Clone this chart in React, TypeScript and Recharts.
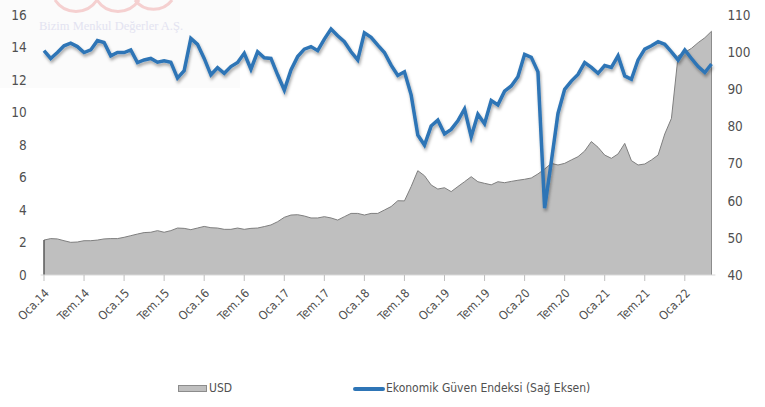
import React from 'react';
import { ComposedChart, Area, Line, XAxis, YAxis, Legend, ReferenceLine } from 'recharts';

const months = [
  'Oca.14', 'Şub.14', 'Mar.14', 'Nis.14', 'May.14', 'Haz.14', 'Tem.14', 'Ağu.14', 'Eyl.14', 'Eki.14', 'Kas.14', 'Ara.14',
  'Oca.15', 'Şub.15', 'Mar.15', 'Nis.15', 'May.15', 'Haz.15', 'Tem.15', 'Ağu.15', 'Eyl.15', 'Eki.15', 'Kas.15', 'Ara.15',
  'Oca.16', 'Şub.16', 'Mar.16', 'Nis.16', 'May.16', 'Haz.16', 'Tem.16', 'Ağu.16', 'Eyl.16', 'Eki.16', 'Kas.16', 'Ara.16',
  'Oca.17', 'Şub.17', 'Mar.17', 'Nis.17', 'May.17', 'Haz.17', 'Tem.17', 'Ağu.17', 'Eyl.17', 'Eki.17', 'Kas.17', 'Ara.17',
  'Oca.18', 'Şub.18', 'Mar.18', 'Nis.18', 'May.18', 'Haz.18', 'Tem.18', 'Ağu.18', 'Eyl.18', 'Eki.18', 'Kas.18', 'Ara.18',
  'Oca.19', 'Şub.19', 'Mar.19', 'Nis.19', 'May.19', 'Haz.19', 'Tem.19', 'Ağu.19', 'Eyl.19', 'Eki.19', 'Kas.19', 'Ara.19',
  'Oca.20', 'Şub.20', 'Mar.20', 'Nis.20', 'May.20', 'Haz.20', 'Tem.20', 'Ağu.20', 'Eyl.20', 'Eki.20', 'Kas.20', 'Ara.20',
  'Oca.21', 'Şub.21', 'Mar.21', 'Nis.21', 'May.21', 'Haz.21', 'Tem.21', 'Ağu.21', 'Eyl.21', 'Eki.21', 'Kas.21', 'Ara.21',
  'Oca.22', 'Şub.22', 'Mar.22', 'Nis.22', 'May.22',
];

const usd = [
  2.15, 2.24, 2.22, 2.11, 2.01, 2.03, 2.11, 2.11, 2.15, 2.22, 2.24, 2.24,
  2.32, 2.42, 2.52, 2.61, 2.63, 2.73, 2.63, 2.73, 2.89, 2.87, 2.79, 2.89,
  2.99, 2.91, 2.89, 2.81, 2.81, 2.89, 2.81, 2.87, 2.89, 2.98, 3.08, 3.28,
  3.55, 3.69, 3.71, 3.63, 3.51, 3.51, 3.59, 3.51, 3.38, 3.59, 3.79, 3.79,
  3.69, 3.79, 3.79, 4.0, 4.21, 4.57, 4.56, 5.44, 6.42, 6.11, 5.54, 5.29,
  5.37, 5.13, 5.44, 5.74, 6.05, 5.74, 5.64, 5.55, 5.74, 5.68, 5.76, 5.83,
  5.89, 5.97, 6.22, 6.52, 6.87, 6.77, 6.87, 7.08, 7.28, 7.63, 8.21, 7.86,
  7.38, 7.18, 7.45, 8.1, 7.04, 6.77, 6.83, 7.08, 7.38, 8.68, 9.64, 13.5,
  13.7, 13.95, 14.3, 14.6, 15.0,
];

const eci = [
  100.4, 98.3, 99.9, 101.7, 102.4, 101.5, 99.9, 100.6, 103.1, 102.6, 99.0, 99.9,
  99.9, 100.6, 97.2, 97.9, 98.3, 97.3, 97.7, 97.3, 93.0, 95.0, 103.7, 102.1,
  98.3, 93.9, 95.8, 94.3, 96.1, 97.2, 99.7, 95.4, 100.1, 98.5, 98.3, 93.9,
  89.8, 95.2, 98.8, 100.8, 101.5, 100.4, 103.5, 106.2, 104.4, 102.8, 100.1, 97.9,
  105.2, 104.0, 101.9, 99.9, 96.5, 93.7, 94.7, 88.5, 77.7, 75.0, 80.1, 81.7,
  78.0, 79.2, 81.5, 84.7, 77.2, 83.3, 80.7, 87.0, 85.8, 89.5, 90.9, 93.4,
  99.4, 98.6, 94.7, 58.0, 70.5, 83.5, 90.0, 92.2, 94.0, 97.2, 95.9, 94.3,
  96.4, 95.9, 99.0, 93.6, 92.7, 97.9, 100.8, 101.7, 102.8, 102.1, 100.1, 97.9,
  100.6, 98.3, 96.1, 94.5, 96.8,
];

const xTicks = [
  'Oca.14', 'Tem.14', 'Oca.15', 'Tem.15', 'Oca.16', 'Tem.16', 'Oca.17', 'Tem.17', 'Oca.18',
  'Tem.18', 'Oca.19', 'Tem.19', 'Oca.20', 'Tem.20', 'Oca.21', 'Tem.21', 'Oca.22',
];
const leftTicks = [0, 2, 4, 6, 8, 10, 12, 14, 16];
const rightTicks = [40, 50, 60, 70, 80, 90, 100, 110];

const seriesNames = { usd: 'USD', eci: 'Ekonomik Güven Endeksi (Sağ Eksen)' };
const watermark = 'Bizim Menkul Değerler A.Ş.';

const data = months.map((m, i) => ({ month: m, usd: usd[i], eci: eci[i] }));

const FONT = "'Liberation Sans Narrow', 'DejaVu Sans Condensed', 'Liberation Sans', sans-serif";
const TEXT = '#505050';
const BLUE = '#2E75B6';

const XTick = (props: any) => {
  const { x, y, payload } = props;
  return (
    <g transform={`translate(${x + 3},${y + 8})`}>
      <text x={0} y={0} dy="0.35em" textAnchor="end" transform="rotate(-45)" fill={TEXT} fontSize={12} fontFamily={FONT}>
        {payload.value}
      </text>
    </g>
  );
};

const renderLegend = () => (
  <div style={{ position: 'relative', width: 765, height: 20, fontFamily: FONT, fontSize: 12, color: TEXT }}>
    <div style={{ position: 'absolute', left: 178, top: 7, width: 29, height: 7, background: '#BFBFBF', border: '1px solid #8C8C8C', boxSizing: 'border-box' }} />
    <span style={{ position: 'absolute', left: 209, top: 2, lineHeight: '16px', whiteSpace: 'nowrap' }}>{seriesNames.usd}</span>
    <div style={{ position: 'absolute', left: 353, top: 9, width: 32, height: 4, background: BLUE, borderRadius: 2 }} />
    <span style={{ position: 'absolute', left: 386, top: 2, lineHeight: '16px', whiteSpace: 'nowrap' }}>{seriesNames.eci}</span>
  </div>
);

export default function App() {
  return (
    <div style={{ position: 'absolute', left: 0, top: 0, width: 765, height: 407, background: '#fff', overflow: 'hidden' }}>
      <div style={{ position: 'absolute', left: 0, top: 0, width: 240, height: 88, background: '#FBFBFB' }} />
      <svg style={{ position: 'absolute', left: 0, top: 0 }} width={240} height={20}>
        <path d="M 55 0 A 25 25 0 0 0 97 0" fill="none" stroke="#F5D0D0" strokeWidth={3} />
        <path d="M 97 0 A 25 25 0 0 0 139 0" fill="none" stroke="#F5D0D0" strokeWidth={3} />
        <path d="M 135 0 A 23 23 0 0 0 172 0" fill="none" stroke="#F5D0D0" strokeWidth={3} />
      </svg>
      <div style={{ position: 'absolute', left: 39, top: 19, fontFamily: "'Liberation Serif', serif", fontSize: 12.5, color: '#E3E3F1', whiteSpace: 'nowrap' }}>
        {watermark}
      </div>
      <div style={{ position: 'absolute', left: 0, top: 0 }}>
        <ComposedChart width={765} height={407} data={data} margin={{ top: 15, right: 0, bottom: 0, left: 0 }}>
          <defs>
            <filter id="lineShadow" x="-5%" y="-20%" width="110%" height="140%">
              <feDropShadow dx="1" dy="2.5" stdDeviation="1.6" floodColor="#000" floodOpacity="0.35" />
            </filter>
          </defs>
          <XAxis
            dataKey="month"
            ticks={xTicks}
            interval={0}
            tick={(p: any) => <XTick {...p} />}
            height={132}
            padding={{ left: 3.3, right: 3.9 }}
            axisLine={{ stroke: '#D9D9D9' }}
            tickLine={{ stroke: '#BFBFBF' }}
            tickSize={6}
            tickMargin={2}
          />
          <YAxis
            yAxisId="left"
            orientation="left"
            width={40.7}
            domain={[0, 16]}
            ticks={leftTicks}
            interval={0}
            axisLine={false}
            tickLine={false}
            tickSize={0}
            tickMargin={14}
            tick={{ fill: TEXT, fontSize: 13.5, fontFamily: FONT }}
          />
          <YAxis
            yAxisId="right"
            orientation="right"
            width={49.6}
            domain={[40, 110]}
            ticks={rightTicks}
            interval={0}
            axisLine={false}
            tickLine={false}
            tickSize={0}
            tickMargin={12}
            tick={{ fill: TEXT, fontSize: 13.5, fontFamily: FONT }}
          />
          <Area
            yAxisId="left"
            type="linear"
            dataKey="usd"
            name={seriesNames.usd}
            fill="#BFBFBF"
            fillOpacity={1}
            stroke="#7F7F7F"
            strokeWidth={1}
            isAnimationActive={false}
          />
          <ReferenceLine
            yAxisId="left"
            segment={[{ x: months[0], y: 0 }, { x: months[0], y: usd[0] }]}
            stroke="#595959"
            strokeWidth={1.5}
            ifOverflow="visible"
          />
          <ReferenceLine
            yAxisId="left"
            segment={[{ x: months[months.length - 1], y: 0 }, { x: months[months.length - 1], y: usd[usd.length - 1] }]}
            stroke="#8C8C8C"
            strokeWidth={1}
            ifOverflow="visible"
          />
          <Line
            yAxisId="right"
            type="linear"
            dataKey="eci"
            name={seriesNames.eci}
            stroke={BLUE}
            strokeWidth={3.5}
            dot={false}
            activeDot={false}
            filter="url(#lineShadow)"
            isAnimationActive={false}
          />
          <Legend
            layout="horizontal"
            verticalAlign="middle"
            align="center"
            wrapperStyle={{ left: 0, top: 378, width: 765 }}
            content={renderLegend}
          />
        </ComposedChart>
      </div>
    </div>
  );
}
